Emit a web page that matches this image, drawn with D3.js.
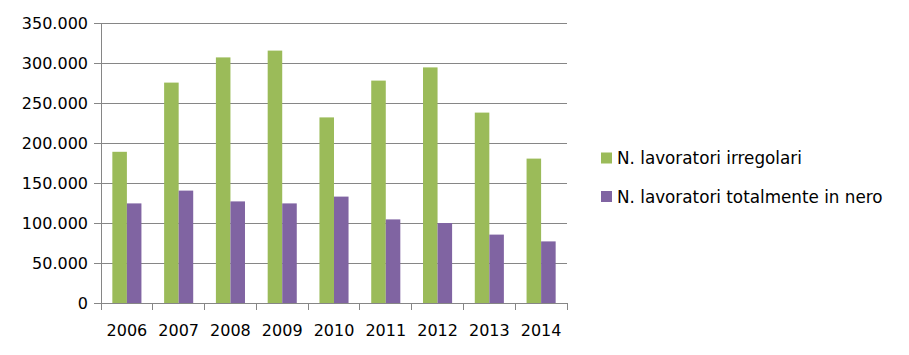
<!DOCTYPE html>
<html><head><meta charset="utf-8">
<script src="https://cdn.jsdelivr.net/npm/d3@7"></script>
<style>body{margin:0;background:#fff}svg{display:block}</style>
</head><body>
<script>
const years = ["2006","2007","2008","2009","2010","2011","2012","2013","2014"];
const irregolari = [189000, 275500, 307000, 315500, 232000, 278000, 294500, 238000, 180500];
const nero = [124500, 140500, 127000, 124500, 133000, 104500, 100000, 85500, 77000];
const seriesNames = ["N. lavoratori irregolari", "N. lavoratori totalmente in nero"];
const colors = ["#9BBB59", "#8064A2"];
const yTicks = [0, 50000, 100000, 150000, 200000, 250000, 300000, 350000];

(function(){
const W = 909, H = 355;
const svg = d3.select("body").append("svg").attr("width", W).attr("height", H);
const font = "DejaVu Sans, sans-serif";
const mLeft = 101, mRight = 567, mTop = 23, mBottom = 303;

const x = d3.scaleBand().domain(years).range([mLeft, mRight]).paddingInner(0).paddingOuter(0);
const y = d3.scaleLinear().domain([0, 350000]).range([mBottom, mTop]);
const inner = d3.scaleBand().domain([0,1]).range([0, x.bandwidth()]).paddingOuter(0.78).paddingInner(0);

const fmt = v => v === 0 ? "0" : d3.format(",")(v).replace(/,/g, ".");

// gridlines + y ticks
const yAxis = d3.axisLeft(y).tickValues(yTicks).tickFormat(fmt).tickSize(-(mRight - mLeft)).tickSizeOuter(0).tickPadding(13);
const gy = svg.append("g").attr("transform", `translate(${mLeft},0)`).call(yAxis);
gy.select(".domain").remove();
gy.selectAll(".tick line").attr("stroke", "#868686").attr("x1", -7).attr("shape-rendering", "crispEdges");
gy.selectAll(".tick text").attr("font-family", font).attr("font-size", 16).attr("fill", "#000");

// bars
const data = [irregolari, nero];
data.forEach((arr, si) => {
  svg.append("g").selectAll("rect").data(arr).join("rect")
    .attr("x", (d, i) => x(years[i]) + inner(si))
    .attr("width", inner.bandwidth())
    .attr("y", d => y(d))
    .attr("height", d => y(0) - y(d))
    .attr("fill", colors[si]);
});

// y axis line
svg.append("line").attr("x1", mLeft).attr("x2", mLeft).attr("y1", mTop).attr("y2", mBottom)
  .attr("stroke", "#868686").attr("shape-rendering", "crispEdges");

// x axis
const xAxis = d3.axisBottom(x).tickSize(0).tickPadding(0);
const gx = svg.append("g").attr("transform", `translate(0,${mBottom})`).call(xAxis);
gx.select(".domain").attr("stroke", "#868686").attr("shape-rendering", "crispEdges");
gx.selectAll(".tick text").attr("font-family", font).attr("font-size", 16).attr("fill", "#000").attr("dy", "0").attr("y", 33);
// category boundary tick marks
const bounds = years.map(yv => x(yv)).concat([mRight]);
svg.append("g").selectAll("line").data(bounds).join("line")
  .attr("x1", d => d).attr("x2", d => d).attr("y1", mBottom).attr("y2", mBottom + 7)
  .attr("stroke", "#868686").attr("shape-rendering", "crispEdges");

// legend
const lg = svg.append("g");
seriesNames.forEach((name, i) => {
  const yy = 164 + i * 38.5;
  lg.append("rect").attr("x", 601).attr("y", yy - 11.5).attr("width", 11).attr("height", 11).attr("fill", colors[i]);
  lg.append("text").attr("x", 617).attr("y", yy).attr("font-family", font).attr("font-size", 16.8).attr("fill", "#000").text(name);
});
})();
</script>
</body></html>
